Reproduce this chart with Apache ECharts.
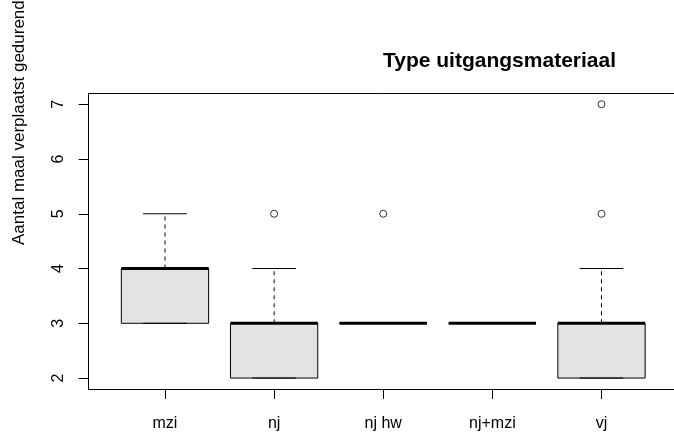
<!DOCTYPE html>
<html>
<head>
<meta charset="utf-8">
<script src="https://cdn.jsdelivr.net/npm/echarts@6/dist/echarts.min.js"></script>
<style>
html,body{margin:0;padding:0;background:#fff;}
#chart{width:674px;height:432px;}
</style>
</head>
<body>
<div id="chart"></div>
<script>
// ---- data ----
const categories = ['mzi', 'nj', 'nj hw', 'nj+mzi', 'vj'];
const whiskerLow = [3, 2, 3, 3, 2];
const lowerQuartile = [3, 2, 3, 3, 2];
const medians = [4, 3, 3, 3, 3];
const upperQuartile = [4, 3, 3, 3, 3];
const whiskerHigh = [5, 4, 3, 3, 4];
const outlierCategory = ['nj', 'nj hw', 'vj', 'vj'];
const outlierValue = [5, 5, 5, 7];
const yTicks = [2, 3, 4, 5, 6, 7];
const titleText = 'Type uitgangsmateriaal';
const yLabelText = 'Aantal maal verplaatst gedurende';

const FONT = "'Liberation Sans', Arial, Helvetica, sans-serif";
const xPositions = categories.map((c, i) => i + 1);

const boxData = categories.map((c, i) => [
  i + 1, whiskerLow[i], lowerQuartile[i], medians[i], upperQuartile[i], whiskerHigh[i]
]);
const outlierData = outlierCategory.map((c, i) => [categories.indexOf(c) + 1, outlierValue[i]]);

const chart = echarts.init(document.getElementById('chart'), null, { renderer: 'canvas' });

function renderBox(params, api) {
  const x = api.value(0);
  const wl = api.value(1), q1 = api.value(2), med = api.value(3), q3 = api.value(4), wh = api.value(5);
  const half = api.size([0.4, 0])[0];
  const capHalf = api.size([0.2, 0])[0];
  const pQ3 = api.coord([x, q3]);
  const pQ1 = api.coord([x, q1]);
  const pMed = api.coord([x, med]);
  const pWl = api.coord([x, wl]);
  const pWh = api.coord([x, wh]);
  const cx = pQ3[0];
  const line = (x1, y1, x2, y2, style) => ({
    type: 'line',
    shape: { x1, y1, x2, y2 },
    style: Object.assign({ stroke: '#000', lineWidth: 1 }, style)
  });
  return {
    type: 'group',
    children: [
      {
        type: 'rect',
        shape: { x: cx - half, y: pQ3[1], width: half * 2, height: pQ1[1] - pQ3[1] },
        style: { fill: '#e3e3e3', stroke: '#000', lineWidth: 1 }
      },
      line(cx - half, pMed[1], cx + half, pMed[1], { lineWidth: 3 }),
      line(cx, pQ3[1], cx, pWh[1], { lineDash: [4, 4] }),
      line(cx, pQ1[1], cx, pWl[1], { lineDash: [4, 4] }),
      line(cx - capHalf, pWh[1], cx + capHalf, pWh[1], {}),
      line(cx - capHalf, pWl[1], cx + capHalf, pWl[1], {})
    ]
  };
}

const frameLine = { show: true, lineStyle: { color: '#000', width: 1 } };

chart.setOption({
  animation: false,
  backgroundColor: '#fff',
  title: {
    text: titleText,
    left: 383,
    top: 51,
    padding: 0,
    textStyle: { fontFamily: FONT, fontSize: 21, fontWeight: 'bold', color: '#000' }
  },
  grid: {
    left: 88.6,
    right: 0,
    top: 93.3,
    bottom: 41,
    show: false
  },
  xAxis: [
    {
      type: 'value',
      min: 0.3,
      max: 5.6645,
      axisLine: frameLine,
      splitLine: { show: false },
      axisTick: {
        show: true,
        length: 10,
        customValues: xPositions,
        lineStyle: { color: '#000', width: 1 }
      },
      axisLabel: {
        customValues: xPositions,
        margin: 27,
        color: '#000',
        fontFamily: FONT,
        fontSize: 16,
        formatter: v => categories[Math.round(v) - 1] || ''
      }
    },
    {
      type: 'value',
      position: 'top',
      min: 0.3,
      max: 5.6645,
      axisLine: frameLine,
      splitLine: { show: false },
      axisTick: { show: false },
      axisLabel: { show: false }
    }
  ],
  yAxis: {
    type: 'value',
    min: 1.8,
    max: 7.2,
    axisLine: frameLine,
    splitLine: { show: false },
    axisTick: {
      show: true,
      length: 10,
      customValues: yTicks,
      lineStyle: { color: '#000', width: 1 }
    },
    axisLabel: {
      customValues: yTicks,
      rotate: 90,
      margin: 22,
      color: '#000',
      fontFamily: FONT,
      fontSize: 16,
      formatter: v => String(v)
    }
  },
  graphic: [
    {
      type: 'text',
      x: 19,
      y: 245,
      rotation: Math.PI / 2,
      style: {
        text: yLabelText,
        fill: '#000',
        font: '17px ' + FONT,
        align: 'left',
        verticalAlign: 'middle'
      }
    }
  ],
  series: [
    {
      type: 'custom',
      renderItem: renderBox,
      data: boxData,
      encode: { x: 0, y: [1, 2, 3, 4, 5] },
      z: 2
    },
    {
      type: 'scatter',
      data: outlierData,
      symbol: 'circle',
      symbolSize: 7,
      itemStyle: { color: '#fff', borderColor: '#000', borderWidth: 1 },
      z: 3
    }
  ]
});
</script>
</body>
</html>
